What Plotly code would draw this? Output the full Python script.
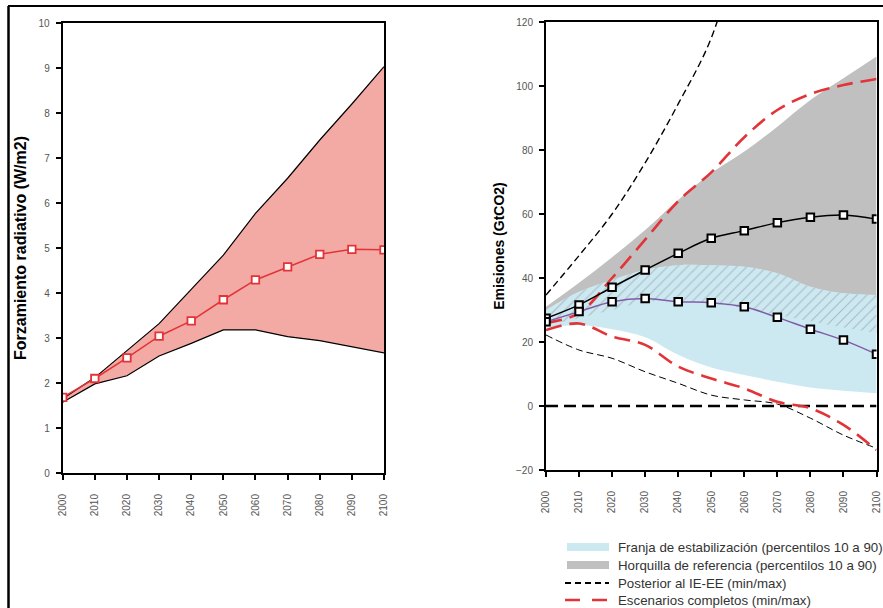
import plotly.graph_objects as go

W, H = 883, 608

# ---------------- data ----------------
years = [2000, 2010, 2020, 2030, 2040, 2050, 2060, 2070, 2080, 2090, 2100]
year_labels = [str(y) for y in years]

# Left panel: radiative forcing (W/m2)
rf_upper = [1.65, 2.12, 2.72, 3.32, 4.08, 4.84, 5.77, 6.55, 7.4, 8.2, 9.03]
rf_lower = [1.57, 1.98, 2.16, 2.6, 2.88, 3.18, 3.18, 3.03, 2.94, 2.8, 2.67]
rf_median = [1.68, 2.1, 2.56, 3.04, 3.38, 3.85, 4.29, 4.58, 4.86, 4.97, 4.96]

# Right panel: emissions (GtCO2)
ref_upper = [31, 38.5, 46.5, 55, 64.4, 72.7, 79.5, 87.3, 95.6, 102.4, 109.2]   # grey band
ref_lower = [25, 27.5, 30, 32.5, 33, 32, 30.5, 28.5, 26.5, 24.5, 22.8]
stab_upper = [30, 35.7, 39.4, 42.5, 44, 44, 43.5, 41.5, 37.3, 35.2, 34.7]   # light blue band
stab_lower = [24.5, 25.3, 24, 21.5, 16, 12, 9.7, 7.6, 5.8, 4.8, 4.0]
ref_median = [27.4, 31.6, 37.1, 42.5, 47.7, 52.4, 54.8, 57.3, 59.0, 59.7, 58.4]
stab_median = [26.3, 29.5, 32.6, 33.6, 32.6, 32.3, 31.0, 27.7, 24.0, 20.6, 16.2]
post_years = [2000, 2010, 2020, 2030, 2040, 2050, 2060]
post_max = [34.7, 47, 60, 76, 94.4, 115, 150]
post_min = [22.2, 17.5, 14.9, 10.7, 7.1, 3.4, 1.9, 0.6, -3.8, -9.1, -13.2]
full_max = [26, 29, 40, 52, 64, 73, 84, 92.5, 97.5, 100.3, 102.2]
full_min = [23.75, 25.8, 21.7, 19.1, 12.3, 8.6, 5.5, 1.3, -0.7, -5.9, -13.75]
zero_line = [0] * len(years)

legend_names = [
    "Franja de estabilización (percentilos 10 a 90)",
    "Horquilla de referencia (percentilos 10 a 90)",
    "Posterior al IE-EE (min/max)",
    "Escenarios completos (min/max)",
]

# ---------------- styles ----------------
FONT = "Liberation Sans, Arial, sans-serif"
PINK = "rgb(244,170,164)"
RED = "rgb(226,52,56)"
BLUE = "rgb(204,232,241)"
GREY = "rgb(192,192,192)"
PURPLE = "rgb(128,92,168)"


def px_x(p):
    return p / W


def px_y(p):
    return 1 - p / H


fig = go.Figure()

# ---------- left panel ----------
fig.add_trace(go.Scatter(x=years, y=rf_lower, mode="lines", line=dict(color="black", width=1.2),
                         showlegend=False, xaxis="x", yaxis="y", hoverinfo="skip"))
fig.add_trace(go.Scatter(x=years, y=rf_upper, mode="lines", line=dict(color="black", width=1.2),
                         fill="tonexty", fillcolor=PINK, showlegend=False, xaxis="x", yaxis="y"))
fig.add_trace(go.Scatter(x=years, y=rf_median, mode="lines+markers",
                         line=dict(color=RED, width=1.5),
                         marker=dict(symbol="square", size=7.5, color="white",
                                     line=dict(color=RED, width=1.8)),
                         showlegend=False, xaxis="x", yaxis="y"))

# ---------- right panel ----------
# grey reference band
fig.add_trace(go.Scatter(x=years, y=ref_lower, mode="lines", line=dict(width=0, color=GREY, shape="spline"),
                         showlegend=False, xaxis="x2", yaxis="y2", hoverinfo="skip"))
fig.add_trace(go.Scatter(x=years, y=ref_upper, mode="lines", line=dict(width=0, color=GREY, shape="spline"),
                         fill="tonexty", fillcolor=GREY, name=legend_names[1],
                         showlegend=False, xaxis="x2", yaxis="y2"))
# light blue stabilisation band
fig.add_trace(go.Scatter(x=years, y=stab_lower, mode="lines", line=dict(width=0, color=BLUE, shape="spline"),
                         showlegend=False, xaxis="x2", yaxis="y2", hoverinfo="skip"))
fig.add_trace(go.Scatter(x=years, y=stab_upper, mode="lines", line=dict(width=0, color=BLUE, shape="spline"),
                         fill="tonexty", fillcolor=BLUE, name=legend_names[0],
                         showlegend=False, xaxis="x2", yaxis="y2"))
# hatched overlap (grey lower .. blue upper)
fig.add_trace(go.Scatter(x=years, y=ref_lower, mode="lines", line=dict(width=0, shape="spline"),
                         showlegend=False, xaxis="x2", yaxis="y2", hoverinfo="skip"))
fig.add_trace(go.Scatter(x=years, y=stab_upper, mode="lines", line=dict(width=0, shape="spline"),
                         fill="tonexty", fillcolor=BLUE,
                         fillpattern=dict(shape="/", fgcolor="rgb(172,186,193)", bgcolor=BLUE,
                                          size=7, solidity=0.15),
                         showlegend=False, xaxis="x2", yaxis="y2", hoverinfo="skip"))

# zero line
fig.add_trace(go.Scatter(x=years, y=zero_line, mode="lines",
                         line=dict(color="black", width=2.5, dash="12px,6px"),
                         showlegend=False, xaxis="x2", yaxis="y2", hoverinfo="skip"))

# post IE-EE min/max
fig.add_trace(go.Scatter(x=post_years, y=post_max, mode="lines",
                         line=dict(color="black", width=1.4, dash="7px,4px", shape="spline"),
                         name=legend_names[2], showlegend=False, xaxis="x2", yaxis="y2"))
fig.add_trace(go.Scatter(x=years, y=post_min, mode="lines",
                         line=dict(color="black", width=1.0, dash="7px,4px", shape="spline"),
                         showlegend=False, xaxis="x2", yaxis="y2"))
# full scenarios min/max
fig.add_trace(go.Scatter(x=years, y=full_max, mode="lines",
                         line=dict(color=RED, width=2.6, dash="16px,8px", shape="spline"),
                         name=legend_names[3], showlegend=False, xaxis="x2", yaxis="y2"))
fig.add_trace(go.Scatter(x=years, y=full_min, mode="lines",
                         line=dict(color=RED, width=2.6, dash="16px,8px", shape="spline"),
                         showlegend=False, xaxis="x2", yaxis="y2"))

# medians
fig.add_trace(go.Scatter(x=years, y=ref_median, mode="lines+markers",
                         line=dict(color="black", width=1.5, shape="spline"),
                         marker=dict(symbol="square", size=7.5, color="white",
                                     line=dict(color="black", width=2)),
                         showlegend=False, xaxis="x2", yaxis="y2"))
fig.add_trace(go.Scatter(x=years, y=stab_median, mode="lines+markers",
                         line=dict(color=PURPLE, width=1.5, shape="spline"),
                         marker=dict(symbol="square", size=7.5, color="white",
                                     line=dict(color="black", width=2)),
                         showlegend=False, xaxis="x2", yaxis="y2"))

# ---------------- manual legend (below right panel) ----------------
legend_rows_y = [547, 565, 583, 600]
sw_x0, sw_x1, txt_x = 567, 609, 616
shapes = [
    # outer frame
    dict(type="line", xref="paper", yref="paper", x0=px_x(8), x1=1.0,
         y0=px_y(6), y1=px_y(6), line=dict(color="black", width=2)),
    dict(type="line", xref="paper", yref="paper", x0=px_x(8.5), x1=px_x(8.5),
         y0=px_y(6), y1=0, line=dict(color="black", width=2.5)),
    # swatches
    dict(type="rect", xref="paper", yref="paper", x0=px_x(sw_x0), x1=px_x(sw_x1),
         y0=px_y(legend_rows_y[0] + 4), y1=px_y(legend_rows_y[0] - 4),
         fillcolor=BLUE, line=dict(width=0)),
    dict(type="rect", xref="paper", yref="paper", x0=px_x(sw_x0), x1=px_x(sw_x1),
         y0=px_y(legend_rows_y[1] + 4), y1=px_y(legend_rows_y[1] - 4),
         fillcolor=GREY, line=dict(width=0)),
    dict(type="line", xref="paper", yref="paper", x0=px_x(sw_x0 - 2), x1=px_x(sw_x1),
         y0=px_y(legend_rows_y[2]), y1=px_y(legend_rows_y[2]),
         line=dict(color="black", width=2, dash="6px,4px")),
    dict(type="line", xref="paper", yref="paper", x0=px_x(sw_x0 - 2), x1=px_x(sw_x1),
         y0=px_y(legend_rows_y[3]), y1=px_y(legend_rows_y[3]),
         line=dict(color=RED, width=2.6, dash="15px,12px")),
]
annotations = [
    dict(text=name, xref="paper", yref="paper", x=px_x(txt_x), y=px_y(yy),
         xanchor="left", yanchor="middle", showarrow=False,
         font=dict(family=FONT, size=13.3, color="#333"))
    for name, yy in zip(legend_names, legend_rows_y)
]

# ---------------- layout ----------------
tickfont = dict(family=FONT, size=10, color="#555")
common_x = dict(tickmode="array", tickvals=years, ticktext=year_labels, tickangle=-90,
                tickfont=dict(family=FONT, size=10, color="#555"), ticklabelstandoff=10,
                showline=True, linecolor="black", linewidth=2, mirror=True,
                ticks="outside", ticklen=5, tickcolor="black", tickwidth=1.5,
                showgrid=False, zeroline=False, automargin=False)
common_y = dict(tickfont=tickfont, showline=True, linecolor="black", linewidth=2, mirror=True,
                ticks="outside", ticklen=5, tickcolor="black", tickwidth=1.5, ticklabelstandoff=4,
                showgrid=False, zeroline=False, automargin=False)

fig.update_layout(
    width=W, height=H,
    margin=dict(l=0, r=0, t=0, b=0),
    paper_bgcolor="white", plot_bgcolor="white",
    font=dict(family=FONT, color="#333"),
    template="none",
    showlegend=False,
    xaxis=dict(domain=[px_x(62.7), px_x(384)], range=[2000, 2100], anchor="y", **common_x),
    yaxis=dict(domain=[px_y(473), px_y(23)], range=[0, 10], dtick=1, anchor="x",
               title=dict(text="<b>Forzamiento radiativo (W/m2)</b>",
                          font=dict(family=FONT, size=16, color="black"), standoff=8),
               **common_y),
    xaxis2=dict(domain=[px_x(546), px_x(876.5)], range=[2000, 2100], anchor="y2", **common_x),
    yaxis2=dict(domain=[px_y(470), px_y(22)], range=[-20, 120], dtick=20, anchor="x2",
                title=dict(text="<b>Emisiones (GtCO2)</b>",
                           font=dict(family=FONT, size=14, color="black"), standoff=8),
                **common_y),
    shapes=shapes,
    annotations=annotations,
)

fig.write_html("out.html")
